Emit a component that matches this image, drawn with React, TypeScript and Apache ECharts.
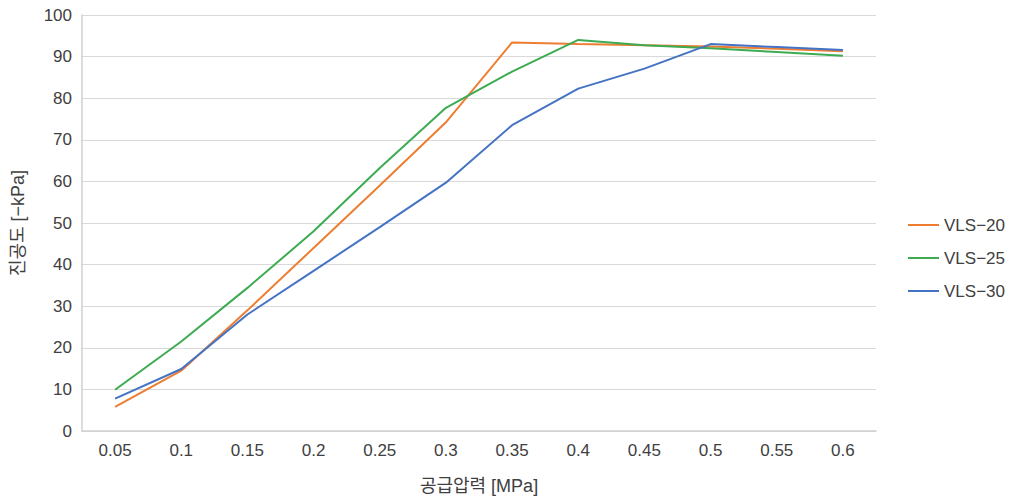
import React, { useEffect, useRef } from "react";
import * as echarts from "echarts";

const categories = ["0.05", "0.1", "0.15", "0.2", "0.25", "0.3", "0.35", "0.4", "0.45", "0.5", "0.55", "0.6"];
const vls20 = [5.8, 14.5, 29.0, 44.0, 59.0, 74.2, 93.4, 93.0, 92.7, 92.4, 91.9, 91.3];
const vls25 = [9.9, 21.5, 34.4, 48.0, 63.2, 77.7, 86.4, 94.0, 92.7, 92.0, 91.1, 90.2];
const vls30 = [7.8, 14.9, 28.0, 38.5, 49.0, 59.7, 73.5, 82.3, 87.1, 93.0, 92.3, 91.6];
const seriesNames = ["VLS−20", "VLS−25", "VLS−30"];
const colors = ["#ED7D31", "#3CAB52", "#4472C4"];

const FONT = "'Liberation Sans', 'Noto Sans CJK KR', sans-serif";

export default function App() {
  const ref = useRef<HTMLDivElement>(null);
  useEffect(() => {
    if (!ref.current) return;
    const chart = echarts.init(ref.current, undefined, { renderer: "svg" });
    const data = [vls20, vls25, vls30];
    chart.setOption({
      animation: false,
      textStyle: { fontFamily: FONT },
      grid: { left: 82, right: 143, top: 15, bottom: 71, containLabel: false },
      legend: {
        orient: "vertical",
        left: 903,
        top: 211,
        itemWidth: 31,
        itemHeight: 2,
        itemGap: 15,
        itemStyle: { borderWidth: 0 },
        icon: "rect",
        textStyle: { fontFamily: FONT, fontSize: 17, color: "#404040", lineHeight: 18 },
        data: seriesNames,
      },
      xAxis: {
        type: "category",
        data: categories,
        boundaryGap: true,
        name: "공급압력 [MPa]",
        nameLocation: "middle",
        nameGap: 46,
        nameTextStyle: { fontFamily: FONT, fontSize: 18, color: "#404040" },
        axisLine: { show: true, lineStyle: { color: "#d0d0d0", width: 1.5 } },
        axisTick: { show: false },
        axisLabel: { fontFamily: FONT, fontSize: 17, color: "#404040", margin: 11 },
        splitLine: { show: false },
      },
      yAxis: {
        type: "value",
        min: 0,
        max: 100,
        interval: 10,
        name: "진공도 [−kPa]",
        nameLocation: "middle",
        nameGap: 55,
        nameRotate: 90,
        nameTextStyle: { fontFamily: FONT, fontSize: 18, color: "#404040" },
        axisLine: { show: true, lineStyle: { color: "#d0d0d0", width: 1.5 } },
        axisTick: { show: false },
        axisLabel: { fontFamily: FONT, fontSize: 17, color: "#404040", margin: 10 },
        splitLine: { show: true, lineStyle: { color: "#d9d9d9", width: 1 } },
      },
      series: seriesNames.map((n, i) => ({
        name: n,
        type: "line",
        data: data[i],
        symbol: "none",
        lineStyle: { color: colors[i], width: 2 },
        itemStyle: { color: colors[i] },
      })),
    });
    return () => chart.dispose();
  }, []);
  return (
    <div
      ref={ref}
      style={{ position: "fixed", left: 0, top: 0, width: 1019, height: 502, background: "#fff" }}
    />
  );
}
